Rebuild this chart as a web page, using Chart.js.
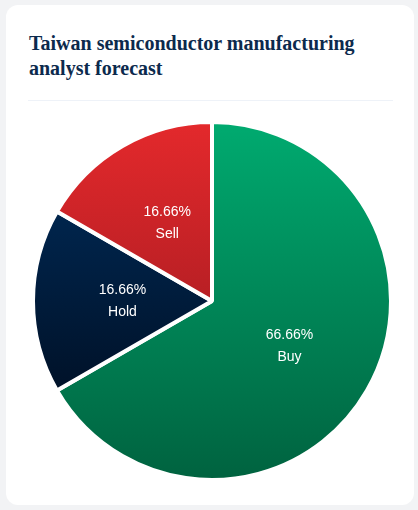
<!DOCTYPE html>
<html>
<head>
<meta charset="utf-8">
<script src="https://cdn.jsdelivr.net/npm/chart.js@4.4.0/dist/chart.umd.min.js"></script>
<style>
  html, body { margin: 0; padding: 0; background: #f2f3f5; }
  .card {
    position: absolute; left: 6px; top: 5px; width: 408px; height: 500px;
    background: #fff; border-radius: 12px;
  }
  h2 {
    position: absolute; left: 23px; top: 26px; margin: 0; width: 370px;
    font-family: "Liberation Serif", "DejaVu Serif", serif; font-weight: bold;
    font-size: 20px; line-height: 25px; color: #0c2a4d;
  }
  .rule {
    position: absolute; left: 22px; right: 21px; top: 95px; height: 1px; background: #eef2f8;
  }
  .wrap { position: absolute; left: 25px; top: 115px; width: 362px; height: 362px; }
</style>
</head>
<body>
<div class="card">
  <h2>Taiwan semiconductor manufacturing analyst forecast</h2>
  <div class="rule"></div>
  <div class="wrap"><canvas id="myChart1"></canvas></div>
</div>
<script>
const labels = ["Buy", "Hold", "Sell"];
const shares = [66.66, 16.66, 16.66];
const topColors = ["#00ab70", "#002f60", "#e4292c"];
const bottomColors = ["#00623f", "#000816", "#8c151c"];

function fill(context) {
  const chart = context.chart;
  const area = chart.chartArea;
  if (!area) return topColors[context.dataIndex];
  const g = chart.ctx.createLinearGradient(0, area.top, 0, area.bottom);
  g.addColorStop(0, topColors[context.dataIndex]);
  g.addColorStop(1, bottomColors[context.dataIndex]);
  return g;
}

const sliceLabels = {
  id: "sliceLabels",
  afterDatasetsDraw(chart) {
    const ctx = chart.ctx;
    const meta = chart.getDatasetMeta(0);
    ctx.save();
    ctx.fillStyle = "#ffffff";
    ctx.font = "14px 'Liberation Sans', Arial, sans-serif";
    ctx.textAlign = "center";
    ctx.textBaseline = "middle";
    meta.data.forEach((arc, i) => {
      const p = arc.tooltipPosition();
      ctx.fillText(shares[i].toFixed(2) + "%", p.x, p.y - 11);
      ctx.fillText(labels[i], p.x, p.y + 11);
    });
    ctx.restore();
  },
};

const ctx = document.getElementById("myChart1");

new Chart(ctx, {
  type: "pie",
  data: {
    labels: labels,
    datasets: [
      {
        data: shares,
        backgroundColor: fill,
        borderColor: "#ffffff",
        borderWidth: 4,
      },
    ],
  },
  options: {
    responsive: true,
    maintainAspectRatio: false,
    animation: false,
    layout: { padding: 0 },
    plugins: {
      legend: { display: false },
      tooltip: { enabled: false },
    },
  },
  plugins: [sliceLabels],
});
</script>
</body>
</html>
